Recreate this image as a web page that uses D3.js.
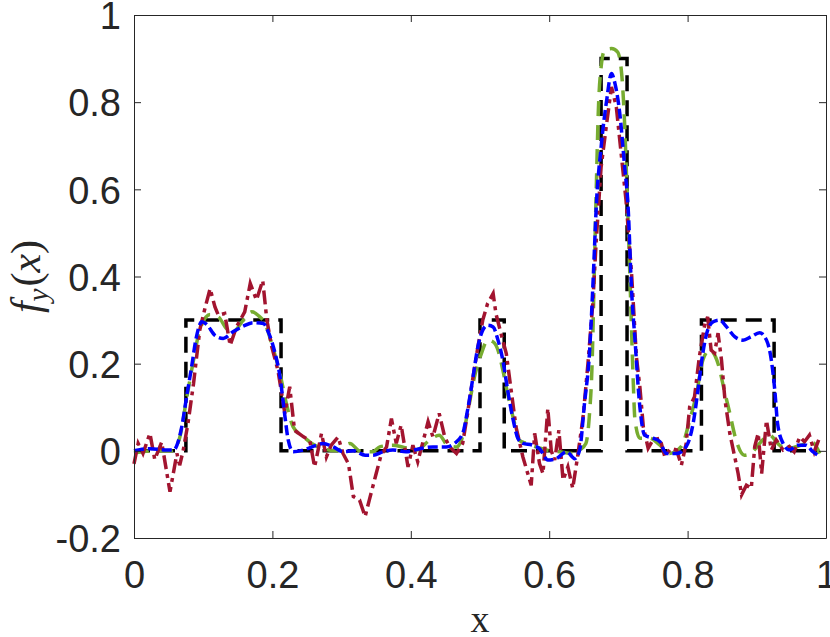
<!DOCTYPE html>
<html>
<head>
<meta charset="utf-8">
<script src="https://cdn.jsdelivr.net/npm/d3@7"></script>
<style>
  html, body { margin: 0; padding: 0; background: #fff; }
</style>
</head>
<body>
<div id="chart"></div>
<script>

// exact function (piecewise constant)
var exactX = [0, 0.075, 0.2125, 0.5, 0.535, 0.675, 0.7125, 0.82, 0.925, 0.99];
var exactY = [0, 0.3, 0, 0.3, 0, 0.9, 0, 0.3, 0, 0];

// green dashed reconstruction
var greenX = [0, 0.03, 0.055, 0.066, 0.076, 0.086, 0.095, 0.11, 0.122, 0.134, 0.143, 0.158, 0.17, 0.18, 0.19, 0.2, 0.211, 0.22, 0.23, 0.245,
    0.257, 0.273, 0.293, 0.312, 0.326, 0.345, 0.355, 0.374, 0.39, 0.408, 0.427, 0.441, 0.453, 0.466, 0.473, 0.482, 0.492, 0.502, 0.511, 0.519,
    0.526, 0.533, 0.54, 0.55, 0.557, 0.567, 0.581, 0.596, 0.615, 0.634, 0.644, 0.653, 0.658, 0.662, 0.665, 0.668, 0.671, 0.675, 0.68, 0.69,
    0.699, 0.705, 0.709, 0.712, 0.715, 0.718, 0.721, 0.724, 0.731, 0.745, 0.76, 0.774, 0.791, 0.803, 0.813, 0.822, 0.832, 0.844, 0.853, 0.861,
    0.87, 0.882, 0.894, 0.904, 0.918, 0.933, 0.947, 0.964, 0.979, 0.991];
var greenY = [-0.005, 0, 0, 0.03, 0.12, 0.208, 0.277, 0.313, 0.307, 0.28, 0.273, 0.3, 0.319, 0.31, 0.29, 0.24, 0.177, 0.11, 0.055, 0.032,
    0.017, 0.005, 0, 0.017, 0, -0.002, 0.009, 0.013, 0.008, 0.002, 0.024, 0.036, 0.013, 0.009, 0.024, 0.086, 0.17, 0.223, 0.254, 0.25,
    0.231, 0.185, 0.131, 0.063, 0.024, 0.017, 0.009, 0.002, -0.002, -0.006, 0.002, 0.017, 0.08, 0.2, 0.4, 0.6, 0.78, 0.88, 0.919, 0.923,
    0.915, 0.86, 0.75, 0.62, 0.48, 0.33, 0.18, 0.07, 0.029, 0.029, 0.013, -0.006, 0.01, 0.07, 0.132, 0.208, 0.231, 0.2, 0.139, 0.086,
    0.025, -0.01, -0.002, 0.017, 0.036, 0.013, 0.006, 0.013, 0.021, -0.006];

// red dash-dot (noisy) reconstruction
var redX = [0, 0.006, 0.013, 0.023, 0.03, 0.04, 0.052, 0.062, 0.066, 0.071, 0.078, 0.086, 0.095, 0.103, 0.11, 0.117, 0.122, 0.131, 0.139, 0.148,
    0.16, 0.168, 0.177, 0.186, 0.192, 0.199, 0.208, 0.218, 0.225, 0.232, 0.245, 0.254, 0.261, 0.271, 0.278, 0.285, 0.295, 0.302, 0.31, 0.317,
    0.326, 0.334, 0.34, 0.35, 0.357, 0.365, 0.372, 0.379, 0.386, 0.396, 0.403, 0.41, 0.417, 0.425, 0.432, 0.441, 0.449, 0.456, 0.466, 0.475,
    0.482, 0.49, 0.497, 0.504, 0.511, 0.519, 0.523, 0.531, 0.538, 0.545, 0.552, 0.562, 0.569, 0.574, 0.579, 0.586, 0.591, 0.598, 0.603, 0.608,
    0.614, 0.62, 0.627, 0.634, 0.641, 0.649, 0.656, 0.663, 0.668, 0.675, 0.683, 0.69, 0.697, 0.704, 0.711, 0.719, 0.726, 0.731, 0.736, 0.743,
    0.75, 0.76, 0.767, 0.776, 0.784, 0.791, 0.798, 0.803, 0.81, 0.817, 0.825, 0.829, 0.834, 0.839, 0.844, 0.849, 0.854, 0.861, 0.868, 0.873,
    0.878, 0.885, 0.892, 0.897, 0.902, 0.907, 0.914, 0.921, 0.928, 0.938, 0.947, 0.954, 0.962, 0.969, 0.976, 0.983, 0.991];
var redY = [-0.03, 0.017, -0.006, 0.04, -0.02, 0.02, -0.094, -0.006, -0.033, 0, 0.063, 0.154, 0.277, 0.33, 0.372, 0.33, 0.311, 0.315, 0.242, 0.284,
    0.319, 0.384, 0.346, 0.391, 0.3, 0.239, 0.185, 0.086, 0.147, 0.047, 0.032, 0.024, -0.037, 0.04, -0.014, 0.013, 0.032, -0.006, -0.03, -0.105,
    -0.113, -0.151, -0.113, -0.052, -0.01, 0.009, 0.074, 0.017, 0.059, -0.037, 0.013, -0.025, 0.017, 0.067, 0.032, 0.086, 0.032, 0.009, -0.006, 0.017,
    0.086, 0.17, 0.239, 0.3, 0.338, 0.361, 0.315, 0.265, 0.223, 0.139, 0.055, -0.014, -0.052, -0.079, 0.04, -0.029, -0.052, 0.097, 0, -0.021,
    0.047, -0.067, -0.037, -0.086, -0.014, 0.078, 0.2, 0.338, 0.483, 0.651, 0.751, 0.835, 0.789, 0.682, 0.575, 0.407, 0.216, 0.147, 0.055, 0.006,
    0.025, 0.029, -0.013, 0.006, 0.002, -0.033, 0.017, 0.101, 0.124, 0.216, 0.292, 0.307, 0.231, 0.224, 0.27, 0.208, 0.117, 0.04, -0.013, -0.052,
    -0.101, -0.079, -0.086, 0.01, 0.04, -0.052, 0.07, 0.002, 0.025, 0.002, 0.01, -0.002, 0.032, 0.021, 0.036, -0.002, 0.032];

// blue dash-dot reconstruction
var blueX = [0, 0.023, 0.045, 0.057, 0.069, 0.076, 0.083, 0.09, 0.098, 0.105, 0.117, 0.129, 0.143, 0.158, 0.172, 0.187, 0.194, 0.204, 0.211, 0.217,
    0.223, 0.23, 0.245, 0.264, 0.273, 0.288, 0.302, 0.317, 0.334, 0.345, 0.36, 0.374, 0.393, 0.413, 0.432, 0.451, 0.463, 0.475, 0.482, 0.49,
    0.497, 0.504, 0.511, 0.519, 0.526, 0.533, 0.54, 0.547, 0.555, 0.562, 0.576, 0.586, 0.598, 0.61, 0.625, 0.637, 0.644, 0.651, 0.658, 0.664,
    0.668, 0.675, 0.683, 0.69, 0.695, 0.702, 0.709, 0.714, 0.719, 0.724, 0.731, 0.738, 0.75, 0.76, 0.769, 0.784, 0.798, 0.808, 0.815, 0.822,
    0.829, 0.837, 0.846, 0.856, 0.868, 0.88, 0.892, 0.904, 0.914, 0.921, 0.926, 0.93, 0.938, 0.947, 0.959, 0.971, 0.981, 0.991];
var blueY = [0, 0.005, 0.002, 0.002, 0.055, 0.124, 0.19, 0.26, 0.296, 0.29, 0.265, 0.258, 0.273, 0.286, 0.294, 0.292, 0.273, 0.223, 0.17, 0.093,
    0.024, -0.002, 0.002, 0.013, 0.017, 0.009, -0.002, 0, -0.01, -0.01, -0.002, 0.002, -0.002, 0.005, 0.009, 0.009, 0.017, 0.04, 0.093, 0.17,
    0.239, 0.277, 0.288, 0.284, 0.254, 0.208, 0.139, 0.078, 0.028, 0.017, 0.013, 0.005, -0.021, -0.018, -0.002, -0.018, 0.002, 0.109, 0.22, 0.41,
    0.56, 0.697, 0.804, 0.866, 0.843, 0.774, 0.652, 0.56, 0.369, 0.254, 0.101, 0.036, 0.029, 0.021, -0.006, -0.006, 0.01, 0.063, 0.139, 0.224,
    0.277, 0.296, 0.3, 0.285, 0.262, 0.254, 0.262, 0.271, 0.254, 0.208, 0.139, 0.063, 0.017, 0.002, 0.013, 0.013, -0.002, -0.013];

var xTicks = [0, 0.2, 0.4, 0.6, 0.8, 1];
var xTickLabels = ["0", "0.2", "0.4", "0.6", "0.8", "1"];
var yTicks = [-0.2, 0, 0.2, 0.4, 0.6, 0.8, 1];
var yTickLabels = ["-0.2", "0", "0.2", "0.4", "0.6", "0.8", "1"];

var width = 830;
var height = 637;

var marginTop = 15;
var marginRight = 4;
var marginBottom = 99;
var marginLeft = 134;

var axisColor = "#262626";

// Create the SVG container.
const svg = d3.select("#chart").append("svg")
    .attr("width", width)
    .attr("height", height);

// scales
var x = d3.scaleLinear()
    .domain([0, 1])
    .range([marginLeft, width - marginRight]);

var y = d3.scaleLinear()
    .domain([-0.2, 1])
    .range([height - marginBottom, marginTop]);

function zip(xs, ys) {
    return xs.map(function(v, i) { return [v, ys[i]]; });
}

var smoothLine = d3.line()
    .x(function(d) { return x(d[0]); })
    .y(function(d) { return y(d[1]); })
    .curve(d3.curveMonotoneX);

var straightLine = d3.line()
    .x(function(d) { return x(d[0]); })
    .y(function(d) { return y(d[1]); });

var stepLine = d3.line()
    .x(function(d) { return x(d[0]); })
    .y(function(d) { return y(d[1]); })
    .curve(d3.curveStepAfter);

var plot = svg.append("g")
    .attr("fill", "none")
    .attr("stroke-width", 3.5);

plot.append("path")
    .attr("d", stepLine(zip(exactX, exactY)))
    .attr("stroke", "#000000")
    .attr("stroke-dasharray", "16,9");

plot.append("path")
    .attr("d", smoothLine(zip(greenX, greenY)))
    .attr("stroke", "#77AC30")
    .attr("stroke-dasharray", "15,9");

plot.append("path")
    .attr("d", straightLine(zip(redX, redY)))
    .attr("stroke", "#A2142F")
    .attr("stroke-dasharray", "14,5,4,5");

plot.append("path")
    .attr("d", smoothLine(zip(blueX, blueY)))
    .attr("stroke", "#0000FF")
    .attr("stroke-dasharray", "10,4");

// axes (MATLAB style box, ticks inside)
const gx = svg.append("g")
    .attr("transform", `translate(0,${height - marginBottom})`)
    .call(d3.axisBottom(x).tickValues(xTicks)
        .tickFormat(function(d, i) { return xTickLabels[i]; })
        .tickSizeInner(-7).tickSizeOuter(0));

gx.selectAll("text")
    .attr("y", 50)
    .attr("dy", 0);

const gy = svg.append("g")
    .attr("transform", `translate(${marginLeft},0)`)
    .call(d3.axisLeft(y).tickValues(yTicks)
        .tickFormat(function(d, i) { return yTickLabels[i]; })
        .tickSizeInner(-7).tickSizeOuter(0).tickPadding(13));

gy.selectAll("text")
    .attr("dy", "0.36em");

const gTop = svg.append("g")
    .attr("transform", `translate(0,${marginTop})`)
    .call(d3.axisTop(x).tickValues(xTicks).tickFormat("")
        .tickSizeInner(-7).tickSizeOuter(0));

const gRight = svg.append("g")
    .attr("transform", `translate(${width - marginRight},0)`)
    .call(d3.axisRight(y).tickValues(yTicks).tickFormat("")
        .tickSizeInner(-7).tickSizeOuter(0));

svg.selectAll(".domain, .tick line")
    .attr("stroke", axisColor)
    .attr("stroke-width", 1);

svg.selectAll(".tick text")
    .attr("fill", axisColor)
    .attr("font-family", "'Liberation Sans', Arial, sans-serif")
    .attr("font-size", 38);

// axis labels
svg.append("text")
    .attr("x", (marginLeft + width - marginRight) / 2)
    .attr("y", 632)
    .attr("text-anchor", "middle")
    .attr("font-family", "'Liberation Serif', serif")
    .attr("font-size", 38)
    .attr("fill", axisColor)
    .text("x");

const ylab = svg.append("text")
    .attr("transform", `translate(40,${(marginTop + height - marginBottom) / 2}) rotate(-90)`)
    .attr("text-anchor", "middle")
    .attr("font-family", "'Liberation Serif', serif")
    .attr("font-size", 42)
    .attr("fill", axisColor);

ylab.append("tspan").attr("font-style", "italic").text("f");
ylab.append("tspan").attr("font-style", "italic").attr("font-size", 29).attr("dy", 8).text("y");
ylab.append("tspan").attr("dy", -8).attr("dx", 2).text("(");
ylab.append("tspan").attr("font-style", "italic").text("x");
ylab.append("tspan").text(")");

</script>
</body>
</html>
